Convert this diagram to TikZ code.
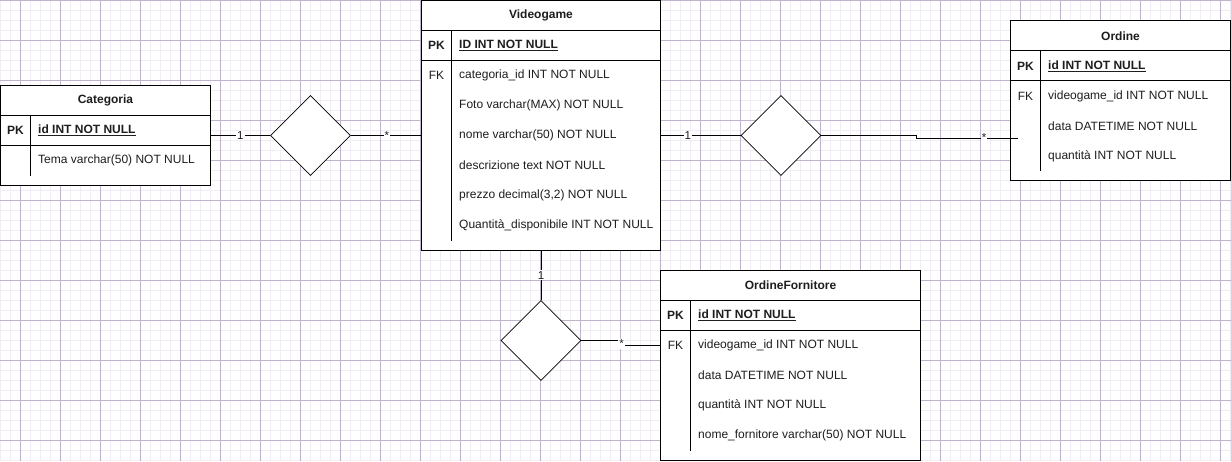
\documentclass[tikz,border=0pt]{standalone}
\usepackage{fontspec}
\setmainfont{Liberation Sans}
\usetikzlibrary{shapes.geometric}
\definecolor{gridmajor}{RGB}{192,180,204}
\definecolor{gridminor}{RGB}{242,237,245}
\definecolor{txt}{RGB}{30,30,30}
\tikzset{
  tbl/.style={draw=black, line width=0.9pt, fill=white},
  sep/.style={draw=black, line width=0.9pt},
  hdr/.style={font=\fontsize{12}{14}\selectfont\bfseries, text=txt, inner sep=0pt},
  key/.style={font=\fontsize{12}{14}\selectfont, text=txt, inner sep=0pt},
  pkkey/.style={font=\fontsize{12}{14}\selectfont\bfseries, text=txt, inner sep=0pt},
  fld/.style={font=\fontsize{12}{14}\selectfont, text=txt, anchor=west, inner sep=0pt},
  pkfld/.style={font=\fontsize{12}{14}\selectfont\bfseries, text=txt, anchor=west, inner sep=0pt},
  rel/.style={diamond, draw=black, line width=0.8pt, fill=white, minimum width=80pt, minimum height=80pt, inner sep=0pt, aspect=1},
  conn/.style={draw=black, line width=0.9pt},
  card/.style={font=\fontsize{11.5}{12}\selectfont, text=txt, fill=white, inner sep=1pt}
}
\begin{document}
\begin{tikzpicture}[x=1pt,y=-1pt]
\useasboundingbox (0,0) rectangle (1231,461);
\fill[white] (0,0) rectangle (1231,461);
% grid
\foreach \i in {0,...,123} { \draw[gridminor, line width=0.75pt] (\i*10+0.5,0) -- (\i*10+0.5,461); }
\foreach \j in {0,...,46} { \draw[gridminor, line width=0.75pt] (0,\j*10+0.5) -- (1231,\j*10+0.5); }
\foreach \i in {0,...,30} { \draw[gridmajor, line width=0.75pt] (\i*40+20.5,0) -- (\i*40+20.5,461); }
\foreach \j in {0,...,11} { \draw[gridmajor, line width=0.75pt] (0,\j*40+0.5) -- (1231,\j*40+0.5); }

% ---------- Categoria ----------
\draw[tbl] (0.5,85.5) rectangle (210.5,185.5);
\draw[sep] (0.5,115.5) -- (210.5,115.5);
\draw[sep] (0.5,145.5) -- (210.5,145.5);
\draw[sep] (30.5,115.5) -- (30.5,175.5);
\node[hdr] (catH) at (105.5,100.5) {Categoria};
\node[pkkey] (catPK) at (15.5,130.5) {PK};
\node[pkfld] (catId) at (38,130.5) {\underline{id INT NOT NULL}};
\node[fld] (catTema) at (38,160.5) {Tema varchar(50) NOT NULL};
\coordinate (catR) at (210.5,135.5);

% ---------- Videogame ----------
\draw[tbl] (421.5,0.5) rectangle (660.5,250.5);
\draw[sep] (421.5,30.5) -- (660.5,30.5);
\draw[sep] (421.5,60.5) -- (660.5,60.5);
\draw[sep] (451.5,30.5) -- (451.5,240.5);
\node[hdr] (vgH) at (541,15.5) {Videogame};
\node[pkkey] (vgPK) at (436.5,45.5) {PK};
\node[pkfld] (vgId) at (459,45.5) {\underline{ID INT NOT NULL}};
\node[key] (vgFK) at (436.5,75.5) {FK};
\node[fld] (vg1) at (459,75.5) {categoria\_id INT NOT NULL};
\node[fld] (vg2) at (459,105.5) {Foto varchar(MAX) NOT NULL};
\node[fld] (vg3) at (459,135.5) {nome varchar(50) NOT NULL};
\node[fld] (vg4) at (459,165.5) {descrizione text NOT NULL};
\node[fld] (vg5) at (459,195.5) {prezzo decimal(3,2) NOT NULL};
\node[fld] (vg6) at (459,225.5) {Quantità\_disponibile INT NOT NULL};
\coordinate (vgL) at (421.5,135.5);
\coordinate (vgR) at (660.5,135.5);
\coordinate (vgB) at (541,250.5);

% ---------- Ordine ----------
\draw[tbl] (1010.5,20.5) rectangle (1230.5,180.5);
\draw[sep] (1010.5,50.5) -- (1230.5,50.5);
\draw[sep] (1010.5,80.5) -- (1230.5,80.5);
\draw[sep] (1040.5,50.5) -- (1040.5,170.5);
\node[hdr] (orH) at (1120.5,36) {Ordine};
\node[pkkey] (orPK) at (1025.5,66) {PK};
\node[pkfld] (orId) at (1048,66) {\underline{id INT NOT NULL}};
\node[key] (orFK) at (1025.5,96) {FK};
\node[fld] (or1) at (1048,96) {videogame\_id INT NOT NULL};
\node[fld] (or2) at (1048,126) {data DATETIME NOT NULL};
\node[fld] (or3) at (1048,156) {quantità INT NOT NULL};
\coordinate (orL) at (1018,138.5);

% ---------- OrdineFornitore ----------
\draw[tbl] (660.5,270.5) rectangle (920.5,460.5);
\draw[sep] (660.5,300.5) -- (920.5,300.5);
\draw[sep] (660.5,330.5) -- (920.5,330.5);
\draw[sep] (690.5,300.5) -- (690.5,450.5);
\node[hdr] (ofH) at (790.5,285.5) {OrdineFornitore};
\node[pkkey] (ofPK) at (675.5,315.5) {PK};
\node[pkfld] (ofId) at (698,315.5) {\underline{id INT NOT NULL}};
\node[key] (ofFK) at (675.5,345.5) {FK};
\node[fld] (of1) at (698,345.5) {videogame\_id INT NOT NULL};
\node[fld] (of2) at (698,375.5) {data DATETIME NOT NULL};
\node[fld] (of3) at (698,405.5) {quantità INT NOT NULL};
\node[fld] (of4) at (698,435.5) {nome\_fornitore varchar(50) NOT NULL};
\coordinate (ofL) at (660.5,345.5);

% ---------- relationships ----------
\node[rel] (d1) at (310.5,135.5) {};
\node[rel] (d2) at (781,135.5) {};
\node[rel] (d3) at (541,340.5) {};

% connectors
\draw[conn] (catR) -- (d1.west) node[card, pos=0.5] {1};
\draw[conn] (d1.east) -- (vgL) node[card, pos=0.51] {*};
\draw[conn] (vgR) -- (d2.west) node[card, pos=0.34] {1};
\coordinate (k1) at (916,135.5);
\coordinate (k2) at (916,138.5);
\draw[conn] (d2.east) -- (k1) -- (k2) -- (orL);
\node[card] (c4) at (984,137.5) {*};
\draw[conn] (vgB) -- (d3.north) node[card, pos=0.5] {1};
\coordinate (k3) at (621,340.5);
\coordinate (k4) at (621,345.5);
\draw[conn] (d3.east) -- (k3) -- (k4) -- (ofL);
\node[card] (c6) at (621.5,344) {*};
\end{tikzpicture}
\end{document}
